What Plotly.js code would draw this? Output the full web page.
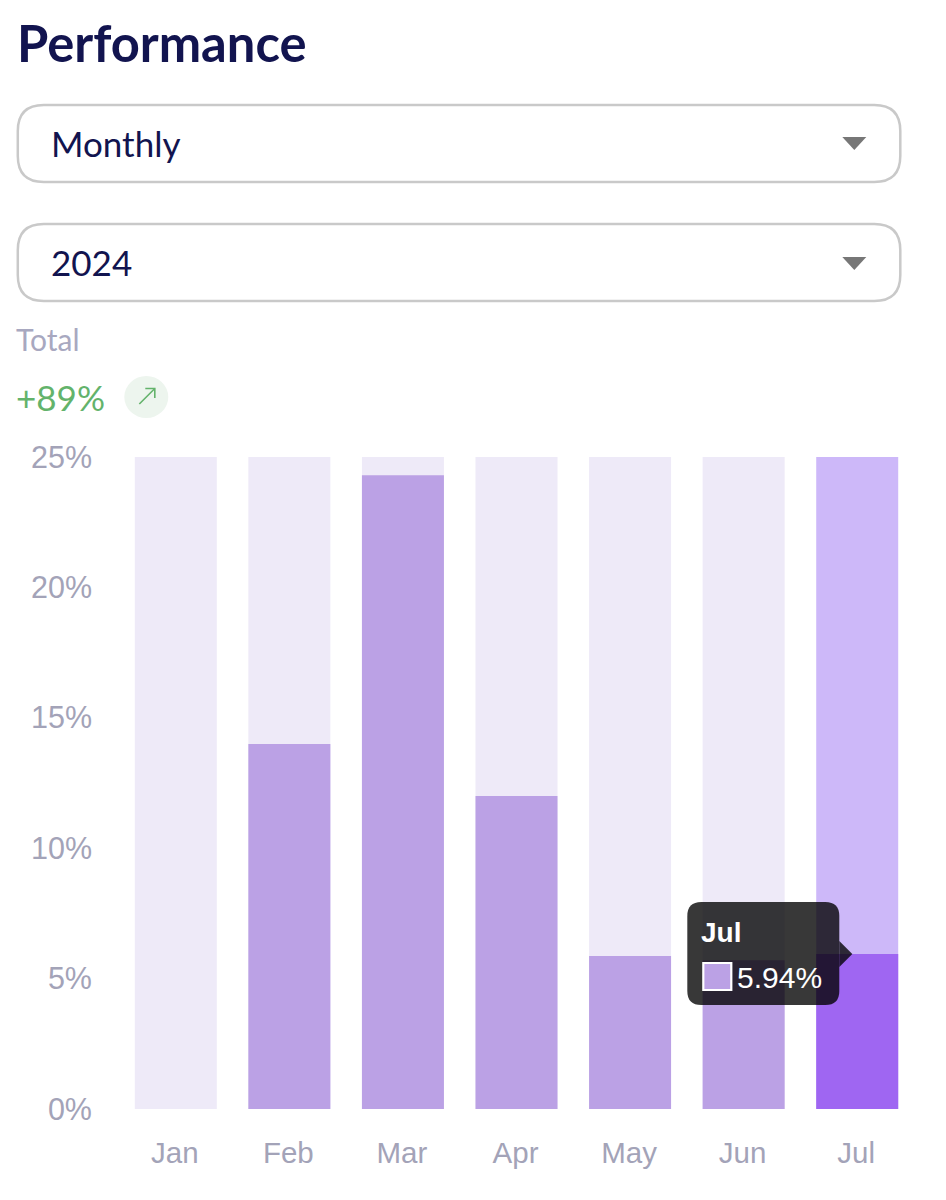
<!DOCTYPE html>
<html>
<head>
<meta charset="utf-8">
<script src="https://cdn.plot.ly/plotly-3.0.1.min.js"></script>
<style>html,body{margin:0;padding:0;background:#fff}</style>
</head>
<body>
<div id="chart" style="width:946px;height:1200px"></div>
<script>
const months = ['Jan','Feb','Mar','Apr','May','Jun','Jul'];
const performance = [0, 14.0, 24.3, 12.0, 5.87, 5.7, 5.94];
const track = [25, 25, 25, 25, 25, 25, 25];
const barColors = ['#BBA1E5','#BBA1E5','#BBA1E5','#BBA1E5','#BBA1E5','#BBA1E5','#9F66F2'];
const trackColors = ['#EEEAF8','#EEEAF8','#EEEAF8','#EEEAF8','#EEEAF8','#EEEAF8','#CDB8F9'];
const yTicks = [0, 5, 10, 15, 20, 25];

const W = 946, H = 1200;
const M = {l: 118.7, r: 32.3, t: 457, b: 91};
const px = x => (x - M.l) / (W - M.l - M.r);
const py = y => 1 - (y - M.t) / (H - M.t - M.b);

function roundRect(x0, y0, x1, y1, r) {
  const P = (x, y) => px(x) + ',' + py(y);
  return 'M' + P(x0 + r, y0) + ' L' + P(x1 - r, y0) + ' Q' + P(x1, y0) + ' ' + P(x1, y0 + r) +
    ' L' + P(x1, y1 - r) + ' Q' + P(x1, y1) + ' ' + P(x1 - r, y1) +
    ' L' + P(x0 + r, y1) + ' Q' + P(x0, y1) + ' ' + P(x0, y1 - r) +
    ' L' + P(x0, y0 + r) + ' Q' + P(x0, y0) + ' ' + P(x0 + r, y0) + ' Z';
}
function poly(pts, close) {
  return 'M' + pts.map(p => px(p[0]) + ',' + py(p[1])).join(' L') + (close ? ' Z' : '');
}
const sh = (path, fill, line, lw) => ({
  type: 'path', xref: 'paper', yref: 'paper', path: path, fillcolor: fill || 'rgba(0,0,0,0)',
  line: {color: line || 'rgba(0,0,0,0)', width: lw || 0}, layer: 'above'
});
const txt = (x, y, text, size, color, family, extra) => Object.assign({
  xref: 'paper', yref: 'paper', x: px(x), y: py(y), text: text, showarrow: false,
  xanchor: 'left', yanchor: 'middle', borderpad: 0,
  font: {size: size, color: color, family: family}
}, extra || {});

const LATO = 'Lato, sans-serif', SANS = '"Liberation Sans", Arial, sans-serif';
const INK = '#12144F';

const shapes = [
  sh(roundRect(17.5, 105, 900, 182, 26), '#fff', '#C9C9C9', 2.5),
  sh(roundRect(17.5, 224, 900, 301, 26), '#fff', '#C9C9C9', 2.5),
  sh(poly([[842, 137], [866, 137], [854, 150]], true), '#777777'),
  sh(poly([[842, 257], [866, 257], [854, 270]], true), '#777777'),
  {type: 'circle', xref: 'paper', yref: 'paper', x0: px(124), x1: px(168), y0: py(418), y1: py(376),
    fillcolor: '#EDF5EE', line: {width: 0}, layer: 'above'},
  sh(poly([[139, 404], [154, 389]]), null, '#63B36B', 1.6),
  sh(poly([[145, 388.5], [154.5, 388.5], [154.5, 398]]), null, '#63B36B', 1.6),
  sh(roundRect(687, 902, 839, 1005, 14), 'rgba(0,0,0,0.78)'),
  sh(poly([[839, 941], [852, 954], [839, 967]], true), 'rgba(0,0,0,0.78)'),
  sh(poly([[703, 963], [731, 963], [731, 990], [703, 990]], true), '#BBA1E5', '#FFFFFF', 2.2)
];

const annotations = [
  txt(15.5, 43, '<b>Performance</b>', 50.7, INK, LATO),
  txt(50, 143, 'Monthly', 35, INK, LATO),
  txt(50, 262, '2024', 35, INK, LATO),
  txt(15, 339, 'Total', 30, '#A8A8C0', LATO),
  txt(15, 397, '+89%', 35, '#63B36B', LATO),
  txt(700, 932, '<b>Jul</b>', 28, '#FFFFFF', SANS),
  txt(736, 977, '5.94%', 30, '#FFFFFF', SANS)
];

const data = [
  {type: 'bar', x: months, y: track, marker: {color: trackColors, line: {width: 0}}, hoverinfo: 'skip', name: 'Track'},
  {type: 'bar', x: months, y: performance, marker: {color: barColors, line: {width: 0}}, name: 'Performance'}
];

const layout = {
  width: W, height: H, margin: M, barmode: 'overlay', bargap: 0.278, showlegend: false,
  paper_bgcolor: '#fff', plot_bgcolor: '#fff',
  xaxis: {type: 'category', categoryorder: 'array', categoryarray: months, showgrid: false, zeroline: false, showline: false,
    ticks: '', ticklabelstandoff: 23, ticklabelshift: -1, tickfont: {family: SANS, size: 29.5, color: '#A3A3B8'}, fixedrange: true},
  yaxis: {range: [0, 25], tickvals: yTicks, ticktext: yTicks.map(v => v + '%'), showgrid: false, zeroline: false, showline: false,
    ticks: '', ticklabelstandoff: 26, tickfont: {family: SANS, size: 30.5, color: '#A3A3B8'}, fixedrange: true},
  shapes: shapes, annotations: annotations
};
Plotly.newPlot('chart', data, layout, {displayModeBar: false, staticPlot: true});
</script>
</body>
</html>
